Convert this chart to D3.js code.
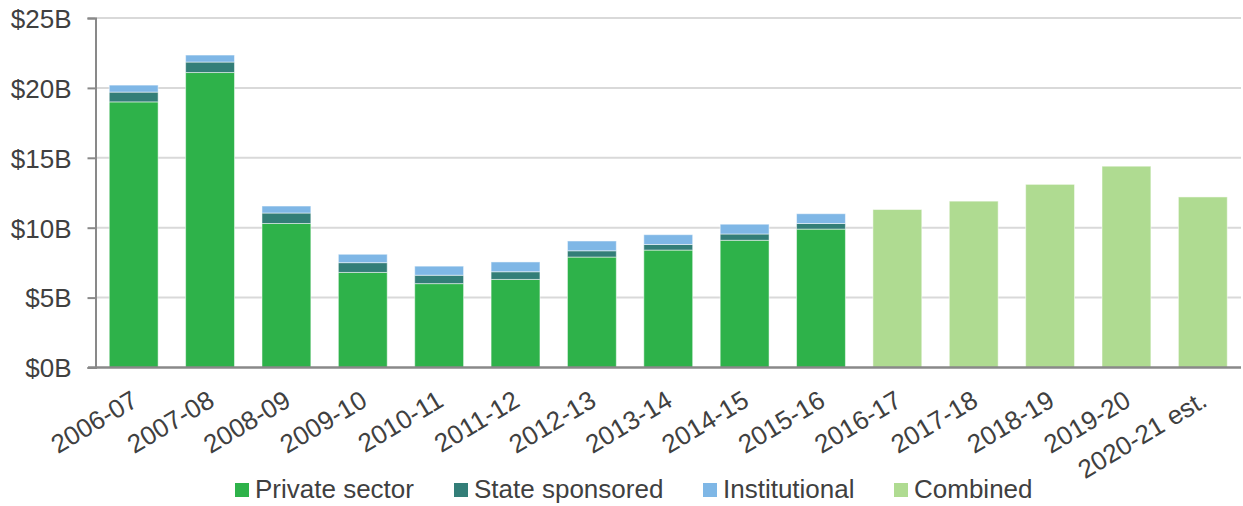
<!DOCTYPE html>
<html>
<head>
<meta charset="utf-8">
<script src="https://cdn.jsdelivr.net/npm/d3@7"></script>
<style>
  body { margin: 0; background: #fff; }
  svg text { font-family: "Liberation Sans", Arial, sans-serif; fill: #404040; }
</style>
</head>
<body>
<svg id="chart" width="1243" height="506"></svg>
<script>
const years = ["2006-07", "2007-08", "2008-09", "2009-10", "2010-11", "2011-12", "2012-13",
  "2013-14", "2014-15", "2015-16", "2016-17", "2017-18", "2018-19", "2019-20", "2020-21 est."];

// $ billions
const privateSector = [19.0, 21.1, 10.3, 6.8, 6.0, 6.3, 7.9, 8.4, 9.1, 9.9];
const stateSponsored = [0.7, 0.75, 0.75, 0.7, 0.6, 0.55, 0.45, 0.4, 0.45, 0.4];
const institutional = [0.5, 0.5, 0.5, 0.6, 0.65, 0.7, 0.7, 0.7, 0.7, 0.7];
const combined = [null, null, null, null, null, null, null, null, null, null, 11.3, 11.9, 13.1, 14.4, 12.2];

const yTicks = [0, 5, 10, 15, 20, 25];

const seriesNames = ["Private sector", "State sponsored", "Institutional", "Combined"];
const colors = ["#2eb24a", "#337e78", "#7fb7e6", "#afdb91"];

const svg = d3.select("#chart");
const fontSize = 26;

const x = d3.scaleBand().domain(years).range([95.5, 1241]).paddingInner(0.36).paddingOuter(0.18);
const y = d3.scaleLinear().domain([0, 25]).range([367.5, 18]);

// gridlines
svg.append("g")
  .selectAll("line")
  .data(yTicks.slice(1))
  .join("line")
  .attr("x1", 95.5).attr("x2", 1241)
  .attr("y1", (d) => y(d)).attr("y2", (d) => y(d))
  .attr("stroke", "#d9d9d9").attr("stroke-width", 2);

// stacked bars
const rows = privateSector.map((p, i) => ({
  year: years[i], "Private sector": p, "State sponsored": stateSponsored[i], Institutional: institutional[i]
}));
const stack = d3.stack().keys(seriesNames.slice(0, 3))(rows);

svg.append("g")
  .selectAll("g")
  .data(stack)
  .join("g")
  .attr("fill", (d, i) => colors[i])
  .selectAll("rect")
  .data((d) => d)
  .join("rect")
  .attr("x", (d) => x(d.data.year))
  .attr("width", x.bandwidth())
  .attr("y", (d) => y(d[1]))
  .attr("height", (d) => y(d[0]) - y(d[1]))
  .attr("stroke", "rgba(255,255,255,0.5)")
  .attr("stroke-width", 1);

// combined bars
svg.append("g")
  .selectAll("rect")
  .data(years.map((yr, i) => ({ year: yr, value: combined[i] })).filter((d) => d.value != null))
  .join("rect")
  .attr("x", (d) => x(d.year))
  .attr("width", x.bandwidth())
  .attr("y", (d) => y(d.value))
  .attr("height", (d) => y(0) - y(d.value))
  .attr("fill", colors[3])
  .attr("stroke", "rgba(255,255,255,0.5)")
  .attr("stroke-width", 1);

// y axis
const yAxis = svg.append("g")
  .attr("transform", "translate(95.5,0)")
  .call(d3.axisLeft(y).tickValues(yTicks).tickSize(8).tickPadding(16).tickFormat((d) => `$${d}B`));
yAxis.select(".domain").attr("stroke", "#898989").attr("stroke-width", 2);
yAxis.selectAll(".tick line").attr("stroke", "#898989").attr("stroke-width", 2);
yAxis.selectAll(".tick text").attr("font-size", fontSize).attr("fill", "#404040").attr("dy", "0.36em");

// x axis baseline
svg.append("line")
  .attr("x1", 88).attr("x2", 1241)
  .attr("y1", y(0)).attr("y2", y(0))
  .attr("stroke", "#898989").attr("stroke-width", 2.5);

// x labels
svg.append("g")
  .selectAll("text")
  .data(years)
  .join("text")
  .attr("transform", (d) => `translate(${x(d) + x.bandwidth() / 2 + 6},405) rotate(-31)`)
  .attr("text-anchor", "end")
  .attr("font-size", fontSize)
  .text((d) => d);

// legend
const legendX = [235, 454, 703, 894];
const legend = svg.append("g")
  .selectAll("g")
  .data(seriesNames)
  .join("g")
  .attr("transform", (d, i) => `translate(${legendX[i]},483)`);
legend.append("rect").attr("width", 14).attr("height", 14).attr("fill", (d, i) => colors[i]);
legend.append("text").attr("x", 20).attr("y", 15).attr("font-size", fontSize).text((d) => d);
</script>
</body>
</html>
